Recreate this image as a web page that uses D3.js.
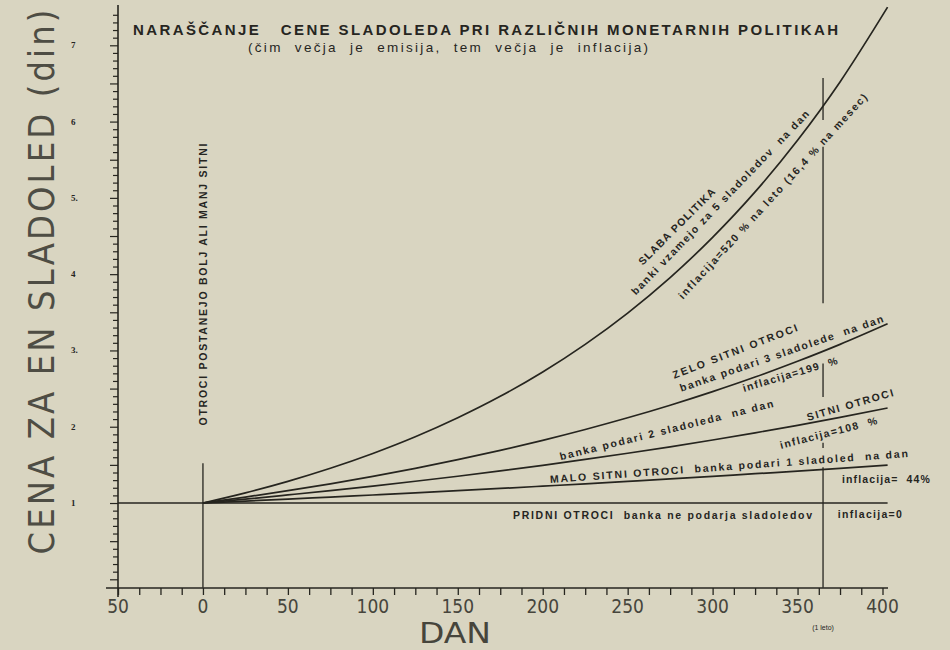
<!DOCTYPE html>
<html>
<head>
<meta charset="utf-8">
<script src="https://cdn.jsdelivr.net/npm/d3@7"></script>
<style>
  body { margin: 0; background: #d9d5c1; }
  svg { display: block; }
</style>
</head>
<body>
<svg id="graf" width="950" height="650"></svg>
<script>
// dnevi in cene (din) odcitane s slike
const dni    = [0, 25, 50, 75, 100, 125, 150, 175, 200, 225, 250, 275, 300, 325, 350, 375, 403]
const slaba  = [1, 1.133, 1.284, 1.455, 1.649, 1.868, 2.117, 2.398, 2.718, 3.080, 3.490, 3.955, 4.482, 5.078, 5.755, 6.52, 7.50]
const zelo   = [1, 1.078, 1.162, 1.252, 1.350, 1.455, 1.568, 1.690, 1.822, 1.964, 2.117, 2.282, 2.460, 2.651, 2.858, 3.080, 3.35]
const sitni  = [1, 1.051, 1.106, 1.162, 1.222, 1.285, 1.351, 1.421, 1.494, 1.571, 1.652, 1.737, 1.826, 1.920, 2.018, 2.122, 2.245]
const malo   = [1, 1.025, 1.051, 1.078, 1.105, 1.133, 1.162, 1.191, 1.221, 1.252, 1.284, 1.316, 1.349, 1.384, 1.418, 1.454, 1.496]
const pridniDni = [-50, 403]
const pridni    = [1, 1]

const xTicks = [-50, 0, 50, 100, 150, 200, 250, 300, 350, 400]
const xTickLabels = ['50', '0', '50', '100', '150', '200', '250', '300', '350', '400']
const yTicks = [1, 2, 3, 4, 5, 6, 7]
const yTickLabels = ['1', '2', '3.', '4', '5.', '6', '7']

// navpicne crte (1 leto = 365 dni, zacetek = 0) po odsekih, v din
const leto = 365
const letoOdseki = [[6.57, 6.02], [5.67, 3.62], [2.83, 2.39], [1.79, 1.72], [1.47, -0.11]]
const zacetekOdseki = [[1.52, -0.11]]

const ink = '#26251f'
const svg = d3.select('#graf')

const x = d3.scaleLinear().domain([-50, 400]).range([118, 882.5])
const y = d3.scaleLinear().domain([0, 7]).range([579.3, 45.3])
const axisY = 588

// osi
svg.append('line').attr('x1', 106).attr('x2', 888).attr('y1', axisY).attr('y2', axisY)
    .attr('stroke', ink).attr('stroke-width', 1.6)
svg.append('line').attr('x1', x(-50)).attr('x2', x(-50)).attr('y1', 5).attr('y2', 597)
    .attr('stroke', ink).attr('stroke-width', 1.6)

const xMinor = d3.range(-50, 400.1, 12.5)
const gx = svg.append('g').attr('transform', `translate(0,${axisY})`)
    .call(d3.axisBottom(x).tickValues(xMinor).tickSize(7).tickFormat(''))
gx.select('.domain').remove()
gx.selectAll('line').attr('stroke', ink).attr('stroke-width', 1.3)

const yMinor = d3.range(0, 75).map(d => d / 10)
const gy = svg.append('g').attr('transform', `translate(${x(-50)},0)`)
    .call(d3.axisLeft(y).tickValues(yMinor).tickSize(5).tickFormat(''))
gy.select('.domain').remove()
gy.selectAll('line').attr('stroke', ink).attr('stroke-width', 1.2)
    .attr('x2', (d, i) => i % 5 === 0 ? -8 : -5)

// oznake na oseh
const tanka = '"DejaVu Sans Condensed", "Liberation Sans Narrow", "Liberation Sans", sans-serif'
svg.append('g').selectAll('text').data(xTicks).join('text')
    .attr('x', d => x(d)).attr('y', 613)
    .attr('text-anchor', 'middle')
    .style('font', `200 19px ${tanka}`)
    .attr('fill', '#46453c')
    .text((d, i) => xTickLabels[i])

svg.append('g').selectAll('text').data(yTicks).join('text')
    .attr('x', 71).attr('y', d => y(d) + 3)
    .style('font', 'bold 9px "Liberation Serif", serif')
    .attr('fill', ink)
    .text((d, i) => yTickLabels[i])

svg.append('text')
    .attr('transform', 'translate(54,282) rotate(-90)')
    .attr('text-anchor', 'middle')
    .attr('textLength', 545).attr('lengthAdjust', 'spacing')
    .style('font', `200 36px ${tanka}`)
    .style('white-space', 'pre')
    .attr('fill', '#4e4d44')
    .text('CENA ZA EN SLADOLED (din)')

svg.append('text')
    .attr('x', 455).attr('y', 643).attr('text-anchor', 'middle')
    .attr('textLength', 72).attr('lengthAdjust', 'spacingAndGlyphs')
    .style('font', `200 29px ${tanka}`)
    .attr('fill', '#46453c')
    .text('DAN')

svg.append('text')
    .attr('x', x(leto)).attr('y', 630).attr('text-anchor', 'middle')
    .style('font', '7px "Liberation Sans", sans-serif')
    .attr('fill', ink)
    .text('(1 leto)')

// naslov
svg.append('text')
    .attr('x', 133).attr('y', 35)
    .attr('textLength', 705).attr('lengthAdjust', 'spacing')
    .style('font', 'bold 15px "Liberation Sans", Arial, sans-serif')
    .style('white-space', 'pre')
    .attr('fill', ink)
    .text('NARAŠČANJE   CENE SLADOLEDA PRI RAZLIČNIH MONETARNIH POLITIKAH')
svg.append('text')
    .attr('x', 248).attr('y', 52)
    .attr('textLength', 400).attr('lengthAdjust', 'spacing')
    .style('font', '13.5px "Liberation Sans", Arial, sans-serif')
    .style('white-space', 'pre')
    .attr('fill', ink)
    .text('(čim  večja  je  emisija,  tem  večja  je  inflacija)')

// navpicne crte
function odseki(t, list) {
    svg.append('g').selectAll('line').data(list).join('line')
        .attr('x1', x(t)).attr('x2', x(t))
        .attr('y1', d => y(d[0])).attr('y2', d => y(d[1]))
        .attr('stroke', ink).attr('stroke-width', 1.3)
}
odseki(leto, letoOdseki)
odseki(0, zacetekOdseki)

// krivulje
const line = d3.line().x(d => x(d[0])).y(d => y(d[1])).curve(d3.curveMonotoneX)
const serije = [slaba, zelo, sitni, malo]
svg.append('g').selectAll('path').data(serije).join('path')
    .attr('d', s => line(dni.map((t, i) => [t, s[i]])))
    .attr('fill', 'none').attr('stroke', ink).attr('stroke-width', 1.7)
svg.append('path')
    .attr('d', line(pridniDni.map((t, i) => [t, pridni[i]])))
    .attr('fill', 'none').attr('stroke', ink).attr('stroke-width', 1.7)

// napisi ob krivuljah: [dan1, din1, dan2, din2, besedilo]
const napisi = [
    [257.2, 4.148, 300.2, 5.105, 'SLABA POLITIKA'],
    [253.1, 3.755, 355.5, 6.127, 'banki vzamejo za 5 sladoledov  na dan'],
    [280.8, 3.700, 389.6, 6.347, 'inflacija=520 % na leto (16,4 % na mesec)'],
    [276.6, 2.678, 349.6, 3.307, 'ZELO SITNI OTROCI'],
    [280.8, 2.507, 400.2, 3.424, 'banka podari 3 sladolede  na dan'],
    [317.8, 2.507, 373.2, 2.874, 'inflacija=199  %'],
    [210.1, 1.610, 335.5, 2.310, 'banka podari 2 sladoleda  na dan'],
    [355.5, 2.127, 406.1, 2.455, 'SITNI OTROCI'],
    [339.6, 1.760, 396.7, 2.088, 'inflacija=108  %'],
    [204.2, 1.314, 414.9, 1.655, 'MALO SITNI OTROCI  banka podari 1 sladoled  na dan'],
    [376.1, 1.314, 427.9, 1.314, 'inflacija=  44%'],
    [182.5, 0.842, 358.5, 0.842, 'PRIDNI OTROCI  banka ne podarja sladoledov'],
    [373.7, 0.855, 411.4, 0.855, 'inflacija=0'],
    [0, 2.016, 0, 5.712, 'OTROCI POSTANEJO BOLJ ALI MANJ SITNI']
]
svg.append('g').selectAll('text').data(napisi).join('text')
    .attr('transform', d => {
        const x1 = x(d[0]), y1 = y(d[1]), x2 = x(d[2]), y2 = y(d[3])
        const a = Math.atan2(y2 - y1, x2 - x1) * 180 / Math.PI
        return `translate(${(x1 + x2) / 2},${(y1 + y2) / 2}) rotate(${a})`
    })
    .attr('text-anchor', 'middle')
    .attr('dominant-baseline', 'central')
    .attr('textLength', d => Math.hypot(x(d[2]) - x(d[0]), y(d[3]) - y(d[1])))
    .attr('lengthAdjust', 'spacing')
    .style('font', 'bold 10.5px "Liberation Sans", Arial, sans-serif')
    .style('white-space', 'pre')
    .attr('fill', ink)
    .text(d => d[4])
</script>
</body>
</html>
